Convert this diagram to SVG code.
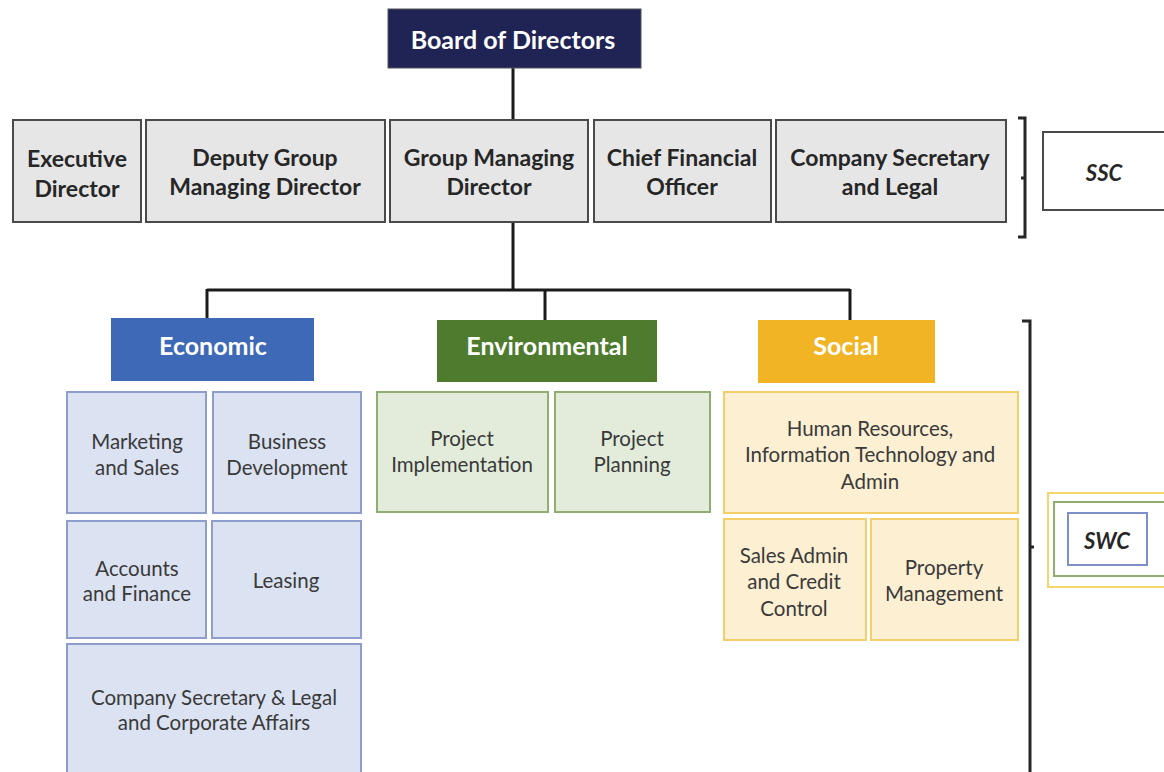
<svg xmlns="http://www.w3.org/2000/svg" width="1164" height="772" viewBox="0 0 1164 772">
  <style>
    text { font-family: Lato, "Open Sans", "Liberation Sans", sans-serif; text-anchor: middle; dominant-baseline: central; }
    .exec rect { fill: #e6e6e6; stroke: #4a4a4a; stroke-width: 2; }
    .exec text { font-size: 23px; font-weight: bold; fill: #262626; }
    .head text { font-size: 25px; font-weight: bold; fill: #ffffff; }
    .eco rect { fill: #dbe2f1; stroke: #8e9dcc; stroke-width: 2; }
    .env rect { fill: #e3ecda; stroke: #8fae70; stroke-width: 2; }
    .soc rect { fill: #fcefd2; stroke: #f3cf6a; stroke-width: 2; }
    .sub text { font-size: 20.5px; fill: #3a3a3a; }
    .link { fill: none; stroke: #1a1a1a; stroke-width: 3; }
    .brace { fill: none; stroke: #262626; stroke-width: 3; }
  </style>

  <!-- reporting lines -->
  <g id="connectors">
    <path class="link" d="M513 68 V120"/>
    <path class="link" d="M513 222 V290"/>
    <path class="link" d="M207 290 H850"/>
    <path class="link" d="M207 289 V318"/>
    <path class="link" d="M545 289 V320"/>
    <path class="link" d="M850 289 V320"/>
  </g>

  <g id="board" class="head">
    <rect x="388" y="9" width="253" height="59" fill="#1f2455" stroke="#555" stroke-width="1"/>
    <text x="513" y="39">Board of Directors</text>
  </g>

  <!-- executive row -->
  <g id="executive-director" class="exec">
    <rect x="13" y="120" width="128" height="102"/>
    <text x="77" y="158">Executive</text>
    <text x="77" y="188">Director</text>
  </g>
  <g id="deputy-gmd" class="exec">
    <rect x="146" y="120" width="239" height="102"/>
    <text x="265" y="157">Deputy Group</text>
    <text x="265" y="186">Managing Director</text>
  </g>
  <g id="gmd" class="exec">
    <rect x="390" y="120" width="198" height="102"/>
    <text x="489" y="157">Group Managing</text>
    <text x="489" y="186">Director</text>
  </g>
  <g id="cfo" class="exec">
    <rect x="594" y="120" width="177" height="102"/>
    <text x="682" y="157">Chief Financial</text>
    <text x="682" y="186">Officer</text>
  </g>
  <g id="company-secretary" class="exec">
    <rect x="776" y="120" width="230" height="102"/>
    <text x="890" y="157">Company Secretary</text>
    <text x="890" y="186">and Legal</text>
  </g>

  <g id="ssc-brace">
    <path class="brace" d="M1018 118 H1025 V237 H1018 M1025 178 H1021"/>
  </g>
  <g id="ssc">
    <rect x="1043" y="132" width="130" height="78" fill="#ffffff" stroke="#4a4a4a" stroke-width="2"/>
    <text x="1104" y="172" font-size="22" font-weight="bold" font-style="italic" fill="#262626">SSC</text>
  </g>

  <!-- pillars -->
  <g id="economic" class="head">
    <rect x="111" y="318" width="203" height="63" fill="#3d69b7"/>
    <text x="213" y="345">Economic</text>
  </g>
  <g id="environmental" class="head">
    <rect x="437" y="320" width="220" height="62" fill="#4f7b2f"/>
    <text x="547" y="345">Environmental</text>
  </g>
  <g id="social" class="head">
    <rect x="758" y="320" width="177" height="63" fill="#f1b425"/>
    <text x="846" y="345">Social</text>
  </g>

  <!-- economic units -->
  <g id="marketing-sales" class="eco sub">
    <rect x="67" y="392" width="139" height="121"/>
    <text x="137" y="441">Marketing</text>
    <text x="137" y="467">and Sales</text>
  </g>
  <g id="business-development" class="eco sub">
    <rect x="213" y="392" width="148" height="121"/>
    <text x="287" y="441">Business</text>
    <text x="287" y="467">Development</text>
  </g>
  <g id="accounts-finance" class="eco sub">
    <rect x="67" y="521" width="139" height="117"/>
    <text x="137" y="568">Accounts</text>
    <text x="137" y="593">and Finance</text>
  </g>
  <g id="leasing" class="eco sub">
    <rect x="212" y="521" width="149" height="117"/>
    <text x="286" y="580">Leasing</text>
  </g>
  <g id="cosec-corporate" class="eco sub">
    <rect x="67" y="644" width="294" height="140"/>
    <text x="214" y="697">Company Secretary &amp; Legal</text>
    <text x="214" y="722">and Corporate Affairs</text>
  </g>

  <!-- environmental units -->
  <g id="project-implementation" class="env sub">
    <rect x="377" y="392" width="171" height="120"/>
    <text x="462" y="438">Project</text>
    <text x="462" y="464">Implementation</text>
  </g>
  <g id="project-planning" class="env sub">
    <rect x="555" y="392" width="155" height="120"/>
    <text x="632" y="438">Project</text>
    <text x="632" y="464">Planning</text>
  </g>

  <!-- social units -->
  <g id="hr-it-admin" class="soc sub">
    <rect x="724" y="392" width="294" height="121"/>
    <text x="870" y="428">Human Resources,</text>
    <text x="870" y="454">Information Technology and</text>
    <text x="870" y="481">Admin</text>
  </g>
  <g id="sales-admin" class="soc sub">
    <rect x="724" y="519" width="142" height="121"/>
    <text x="794" y="555">Sales Admin</text>
    <text x="794" y="581">and Credit</text>
    <text x="794" y="608">Control</text>
  </g>
  <g id="property-management" class="soc sub">
    <rect x="871" y="519" width="147" height="121"/>
    <text x="944" y="567">Property</text>
    <text x="944" y="593">Management</text>
  </g>

  <g id="swc-brace">
    <path class="brace" d="M1022 321 H1030 V780 M1030 547 H1034"/>
  </g>
  <g id="swc">
    <rect x="1048" y="493" width="130" height="94" fill="#ffffff" stroke="#f3d56e" stroke-width="2"/>
    <rect x="1054" y="502" width="120" height="74" fill="#ffffff" stroke="#8fae70" stroke-width="2"/>
    <rect x="1068" y="513" width="79" height="52" fill="#ffffff" stroke="#7d8fc8" stroke-width="2"/>
    <text x="1107" y="540" font-size="22" font-weight="bold" font-style="italic" fill="#262626">SWC</text>
  </g>
</svg>
